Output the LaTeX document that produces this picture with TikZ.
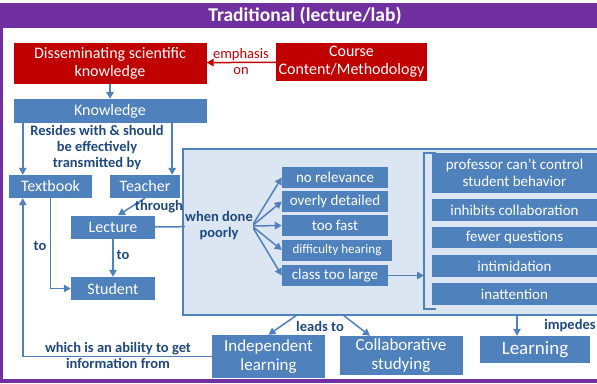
\documentclass[tikz,border=0pt]{standalone}
\usepackage{fontspec}
\setmainfont{Carlito}
\usetikzlibrary{arrows.meta}
\definecolor{titlepurple}{HTML}{7030A0}
\definecolor{boxred}{HTML}{C00000}
\definecolor{boxblue}{HTML}{4F81BD}
\definecolor{panelblue}{HTML}{DCE6F2}
\definecolor{labelblue}{HTML}{1F497D}
\begin{document}
\begin{tikzpicture}[x=1pt,y=-1pt,
  box/.style={fill=boxblue,text=white,align=center,inner sep=1pt,font=\fontsize{16}{18}\selectfont},
  redbox/.style={box,fill=boxred},
  smallbox/.style={box,minimum width=106pt,minimum height=21pt,font=\fontsize{15}{17}\selectfont},
  rightbox/.style={box,minimum width=165pt,font=\fontsize{15}{17}\selectfont},
  lbl/.style={text=labelblue,align=center,font=\bfseries\fontsize{14.5}{16}\selectfont},
  link/.style={boxblue,line width=1.5pt},
  arr/.style={link,-{Triangle[length=7pt,width=7.5pt]}}]
  \useasboundingbox (0,0) rectangle (597,383);
  \clip (0,0) rectangle (597,383);
  \fill [titlepurple] (0,3) rectangle (597,28);
  \fill [titlepurple] (0,3) rectangle (3,383);
  \fill [titlepurple] (0,379) rectangle (597,383);
  \node [text=white,font=\bfseries\fontsize{19.5}{22}\selectfont] (title) at (305,16) {Traditional (lecture/lab)};
  \filldraw [fill=panelblue,draw=boxblue,line width=1.2pt] (183,149) rectangle (610,315);
  \node [redbox,minimum width=193pt,minimum height=41pt] (diss) at (110,63) {Disseminating scientific\\knowledge};
  \node [redbox,minimum width=151pt,minimum height=38pt] (course) at (351.5,62) {Course\\Content/Methodology};
  \node [box,minimum width=193pt,minimum height=24pt] (know) at (110,111) {Knowledge};
  \node [box,minimum width=83pt,minimum height=23pt] (textbook) at (50.5,186.5) {Textbook};
  \node [box,minimum width=70pt,minimum height=23pt] (teacher) at (145,186.5) {Teacher};
  \node [box,minimum width=84pt,minimum height=23pt] (lecture) at (113,227) {Lecture};
  \node [box,minimum width=84pt,minimum height=23pt] (student) at (113,288.5) {Student};
  \node [smallbox] (norel) at (335,177.5) {no relevance};
  \node [smallbox] (overly) at (335,201.5) {overly detailed};
  \node [smallbox] (toofast) at (335,225.5) {too fast};
  \node [smallbox,minimum width=110pt,font=\fontsize{13}{15}\selectfont] (hearing) at (337,250) {difficulty hearing};
  \node [smallbox] (large) at (335,275.5) {class too large};
  \node [rightbox,minimum height=40pt] (control) at (514.5,173) {professor can't control\\student behavior};
  \node [rightbox,minimum height=22pt] (inhibit) at (514.5,210) {inhibits collaboration};
  \node [rightbox,minimum height=21pt] (fewer) at (514.5,237.5) {fewer questions};
  \node [rightbox,minimum height=22pt] (intim) at (514.5,266) {intimidation};
  \node [rightbox,minimum height=22pt] (inatt) at (514.5,294) {inattention};
  \node [box,minimum width=113pt,minimum height=43pt,font=\fontsize{17}{19}\selectfont] (indep) at (268.5,356.5) {Independent\\learning};
  \node [box,minimum width=123pt,minimum height=39pt,font=\fontsize{17}{19}\selectfont] (collab) at (401,355.5) {Collaborative\\studying};
  \node [box,minimum width=110pt,minimum height=27pt,font=\fontsize{19}{21}\selectfont] (learning) at (535,349.5) {Learning};
  \coordinate (tbtop) at ([xshift=14pt]textbook.north west);
  \coordinate (tbbot) at ([xshift=14pt]textbook.south west);
  \coordinate (tctop) at ([xshift=-8pt]teacher.north east);
  \coordinate (split) at (252,226);
  \coordinate (brk) at (424,275.5);
  \coordinate (lead1) at (297,315);
  \coordinate (lead2) at (343,315);
  \coordinate (imp) at (517,315);
  \draw [boxred,line width=1.5pt,-{Triangle[length=7pt,width=7.5pt]}] (course) -- (diss);
  \draw [arr] (diss) -- (know);
  \draw [arr] (tbtop |- know.south) -- (tbtop);
  \draw [arr] (tctop |- know.south) -- (tctop);
  \draw [arr] (teacher.south) -- ([xshift=5pt]lecture.north);
  \draw [arr] (lecture) -- (student);
  \draw [arr] (textbook.south) |- (student.west);
  \draw [link] (lecture.east) -- (split);
  \foreach \b in {norel,overly,toofast,hearing,large}
    \draw [arr] (split) -- (\b.west);
  \draw [arr] (large.east) -- (brk);
  \draw [link,line width=2pt] (436,153) -- (424,153) -- (424,309) -- (436,309);
  \draw [arr] (lead1) -- (indep.north);
  \draw [arr] (lead2) -- ([xshift=-31pt]collab.north);
  \draw [arr] (imp) -- (imp |- learning.north);
  \draw [arr] (indep.west) -| (tbbot);
  \node [text=boxred,align=center,font=\fontsize{14.5}{16}\selectfont] (emph) at (241,62) {emphasis\\on};
  \node [lbl] (resides) at (97,148) {Resides with \& should\\be effectively\\transmitted by};
  \node [lbl] (through) at (159,207) {through};
  \node [lbl] (to1) at (123,255) {to};
  \node [lbl] (to2) at (40,246) {to};
  \node [lbl,fill=panelblue,inner sep=0.5pt] (poorly) at (219,226) {when done\\poorly};
  \node [lbl] (ability) at (118,355.5) {which is an ability to get\\information from};
  \node [lbl] (leads) at (320,326) {leads to};
  \node [lbl,inner sep=0pt] (impedes) at (570,326) {impedes};
\end{tikzpicture}
\end{document}
